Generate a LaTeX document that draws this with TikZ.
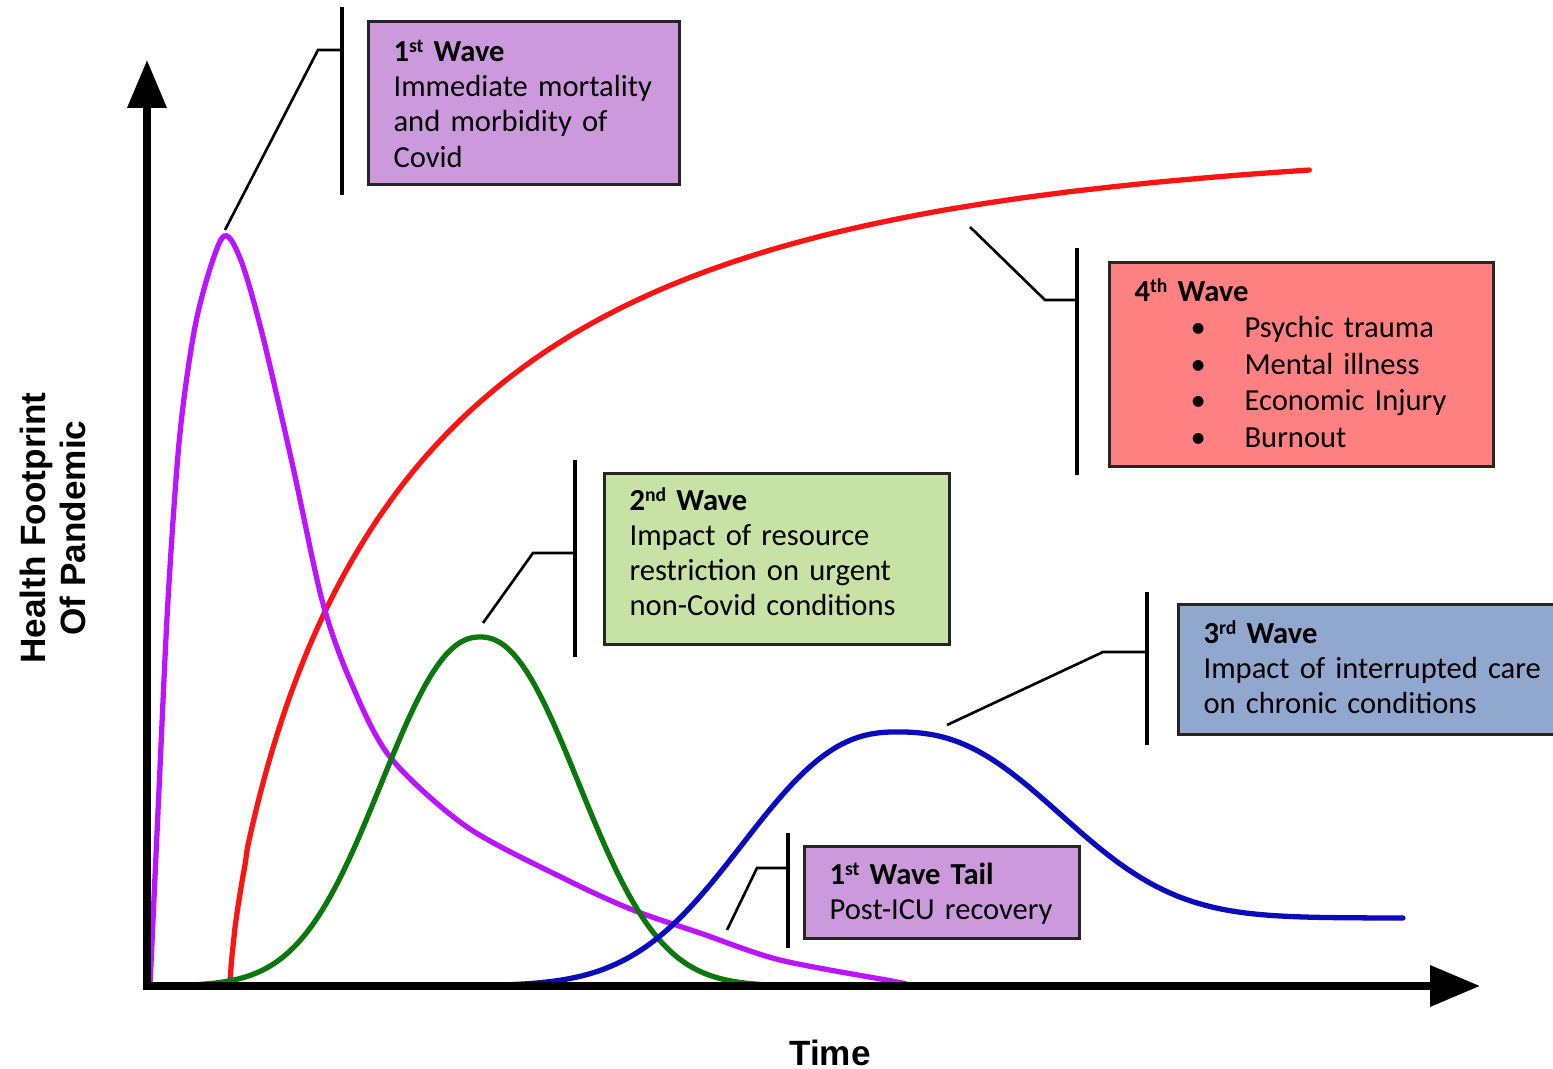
\documentclass[tikz,border=0pt]{standalone}
\usepackage{fontspec}
\setmainfont{Carlito}
\newfontfamily\axisfont{Liberation Sans}
\usetikzlibrary{arrows.meta}

\definecolor{boxpurple}{RGB}{204,153,221}
\definecolor{boxred}{RGB}{255,128,128}
\definecolor{boxgreen}{RGB}{199,226,165}
\definecolor{boxblue}{RGB}{145,168,206}
\definecolor{curvemagenta}{RGB}{187,20,255}
\definecolor{curvered}{RGB}{250,20,20}
\definecolor{curvegreen}{RGB}{10,120,10}
\definecolor{curveblue}{RGB}{10,10,190}

\newcommand{\wavebullet}{\makebox[1.10cm][l]{\hspace{0.56cm}\textbullet}}
\newcommand{\ordsup}[1]{\raisebox{0.6ex}{\fontsize{5.6}{6}\selectfont #1}}

\tikzset{
  wavebox/.style={draw=black!85, line width=0.9pt, anchor=north west, align=left,
    inner xsep=0.25cm, inner ysep=0pt, font=\fontsize{8.7}{10}\selectfont},
  leader/.style={line width=0.75pt},
  bracket/.style={line width=0.95pt},
  curve/.style={line width=1.5pt, line cap=round},
  axislabel/.style={font=\axisfont\bfseries\fontsize{10}{11.4}\selectfont, align=center}
}

\begin{document}
\begin{tikzpicture}
    \useasboundingbox (0,0) rectangle (15.53,10.68);
    \clip (0,0) rectangle (15.53,10.68);

    \coordinate (O) at (1.47,0.82);
    \coordinate (ymax) at (1.47,10.08);
    \coordinate (xmax) at (14.80,0.82);

    \draw[curve, curvered] plot[domain=0.001:1, samples=120, variable=\t] ({2.30+10.8*\t*\t}, {0.82+8.45*(1-exp(-3.37*\t^1.44))});
    \draw[curve, curvemagenta] plot[smooth, tension=0.5] coordinates {(1.50,0.82) (1.59,2.78) (1.68,4.68) (1.80,6.35) (1.97,7.51) (2.22,8.30) (2.40,8.10) (2.62,7.35) (2.93,6.01) (3.22,4.68) (3.50,3.88) (3.90,3.11) (4.67,2.41) (5.67,1.88) (6.33,1.58) (7.00,1.35) (7.80,1.08) (8.97,0.86) (9.05,0.83)};
    \draw[curve, curvegreen] plot[domain=1.47:8.13, samples=150] (\x, {0.82+3.49*exp(-0.5*(abs((\x-4.80)/0.95)+0.0001)^2.2)});
    \draw[curve, curveblue] plot[domain=4.05:8.969, samples=90] (\x, {0.82+2.54*exp(-0.5*(abs((\x-8.97)/1.45))^2.4)})
        -- plot[domain=8.971:14.03, samples=90] (\x, {1.50+1.86*exp(-0.5*((\x-8.97)/1.53)^2.4)});

    \draw[line width=2pt, {Triangle[length=0.48cm,width=0.38cm]}-{Triangle[length=0.5cm,width=0.40cm]}] (ymax) -- (O) -- (xmax);

    \node[axislabel] (time) at (8.30,0.15) {Time};
    \node[axislabel, rotate=90] (health) at (0.53,5.40) {Health Footprint\\Of Pandemic};

    \node[wavebox, fill=boxpurple, text width=2.61cm, text height=0.40cm, text depth=1.23cm] (first) at (3.67,10.48) {\textbf{1\ordsup{st} Wave}\\Immediate mortality\\and morbidity of\\Covid};
    \node[wavebox, fill=boxgreen, text width=2.95cm, text height=0.365cm, text depth=1.345cm] (second) at (6.03,5.96) {\textbf{2\ordsup{nd} Wave}\\Impact of resource\\restriction on urgent\\non-Covid conditions};
    \node[wavebox, fill=boxblue, text width=4.0cm, text height=0.385cm, text depth=0.915cm] (third) at (11.77,4.65) {\textbf{3\ordsup{rd} Wave}\\Impact of interrupted care\\on chronic conditions};
    \node[wavebox, fill=boxred, text width=3.34cm, text height=0.385cm, text depth=1.655cm, font=\fontsize{8.7}{10.4}\selectfont] (fourth) at (11.08,8.07) {\textbf{4\ordsup{th} Wave}\\\wavebullet Psychic trauma\\\wavebullet Mental illness\\\wavebullet Economic Injury\\\wavebullet Burnout};
    \node[wavebox, fill=boxpurple, text width=2.25cm, text height=0.375cm, text depth=0.545cm] (tail) at (8.03,2.23) {\textbf{1\ordsup{st} Wave Tail}\\Post-ICU recovery};

    \coordinate (peak1) at (2.25,8.38);
    \coordinate (knee1) at (3.18,10.18);
    \coordinate (bar1t) at (3.42,10.61);
    \coordinate (bar1b) at (3.42,8.73);
    \draw[leader] (peak1) -- (knee1) -- (knee1 -| bar1t);
    \draw[bracket] (bar1t) -- (bar1b);

    \coordinate (peak2) at (4.83,4.45);
    \coordinate (knee2) at (5.33,5.15);
    \coordinate (bar2t) at (5.75,6.08);
    \coordinate (bar2b) at (5.75,4.11);
    \draw[leader] (peak2) -- (knee2) -- (knee2 -| bar2t);
    \draw[bracket] (bar2t) -- (bar2b);

    \coordinate (peak3) at (9.47,3.43);
    \coordinate (knee3) at (11.03,4.16);
    \coordinate (bar3t) at (11.47,4.76);
    \coordinate (bar3b) at (11.47,3.23);
    \draw[leader] (peak3) -- (knee3) -- (knee3 -| bar3t);
    \draw[bracket] (bar3t) -- (bar3b);

    \coordinate (peak4) at (9.70,8.41);
    \coordinate (knee4) at (10.45,7.68);
    \coordinate (bar4t) at (10.77,8.20);
    \coordinate (bar4b) at (10.77,5.93);
    \draw[leader] (peak4) -- (knee4) -- (knee4 -| bar4t);
    \draw[bracket] (bar4t) -- (bar4b);

    \coordinate (peak5) at (7.27,1.38);
    \coordinate (knee5) at (7.57,2.00);
    \coordinate (bar5t) at (7.88,2.35);
    \coordinate (bar5b) at (7.88,1.20);
    \draw[leader] (peak5) -- (knee5) -- (knee5 -| bar5t);
    \draw[bracket] (bar5t) -- (bar5b);
\end{tikzpicture}
\end{document}
